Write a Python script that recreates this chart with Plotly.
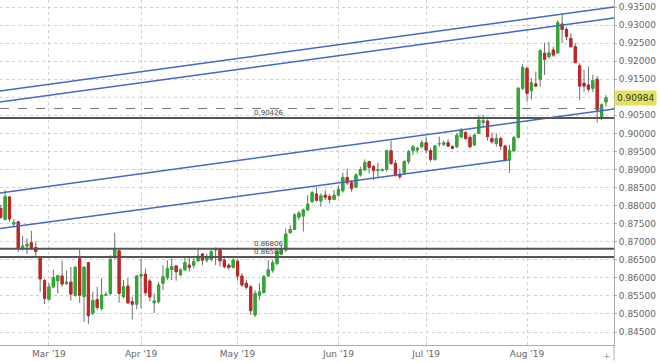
import plotly.graph_objects as go
import pandas as pd

# ---------------- data ----------------
dates = pd.bdate_range("2019-02-14", periods=139).strftime("%Y-%m-%d").tolist()

opens = [0.8792, 0.8762, 0.8824, 0.8749, 0.8755, 0.8681, 0.8688, 0.8697, 0.8684, 0.8657,
         0.8592, 0.8540, 0.8575, 0.8592, 0.8605, 0.8584, 0.8588, 0.8552, 0.8653, 0.8548,
         0.8642, 0.8502, 0.8540, 0.8515, 0.8552, 0.8557, 0.8657, 0.8675, 0.8548, 0.8577,
         0.8534, 0.8527, 0.8605, 0.8610, 0.8591, 0.8531, 0.8534, 0.8585, 0.8601, 0.8623,
         0.8633, 0.8608, 0.8622, 0.8635, 0.8635, 0.8647, 0.8666, 0.8649, 0.8651, 0.8677,
         0.8679, 0.8649, 0.8635, 0.8629, 0.8646, 0.8605, 0.8585, 0.8575, 0.8497, 0.8552,
         0.8559, 0.8605, 0.8620, 0.8640, 0.8666, 0.8677, 0.8725, 0.8734, 0.8768, 0.8771,
         0.8788, 0.8811, 0.8832, 0.8813, 0.8829, 0.8825, 0.8817, 0.8829, 0.8841, 0.8878,
         0.8863, 0.8851, 0.8885, 0.8899, 0.8922, 0.8908, 0.8897, 0.8898, 0.8900, 0.8952,
         0.8917, 0.8887, 0.8891, 0.8922, 0.8952, 0.8954, 0.8963, 0.8974, 0.8952, 0.8928,
         0.8971, 0.8970, 0.8974, 0.8963, 0.8963, 0.8990, 0.9002, 0.8989, 0.8968, 0.9000,
         0.9030, 0.9034, 0.8986, 0.8972, 0.8986, 0.8965, 0.8926, 0.8952, 0.8989, 0.9125,
         0.9180, 0.9118, 0.9137, 0.9150, 0.9222, 0.9212, 0.9231, 0.9223, 0.9303, 0.9288,
         0.9263, 0.9240, 0.9187, 0.9139, 0.9134, 0.9125, 0.9150, 0.9045, 0.9087]
highs = [0.8802, 0.8843, 0.8826, 0.8763, 0.8758, 0.8716, 0.8709, 0.8730, 0.8700, 0.8660,
         0.8597, 0.8585, 0.8623, 0.8608, 0.8647, 0.8620, 0.8630, 0.8633, 0.8677, 0.8633,
         0.8644, 0.8561, 0.8575, 0.8599, 0.8561, 0.8663, 0.8725, 0.8677, 0.8594, 0.8599,
         0.8548, 0.8608, 0.8652, 0.8626, 0.8597, 0.8557, 0.8589, 0.8635, 0.8649, 0.8654,
         0.8635, 0.8626, 0.8658, 0.8658, 0.8654, 0.8682, 0.8669, 0.8666, 0.8679, 0.8684,
         0.8682, 0.8654, 0.8640, 0.8654, 0.8651, 0.8612, 0.8594, 0.8580, 0.8566, 0.8585,
         0.8608, 0.8649, 0.8649, 0.8677, 0.8691, 0.8737, 0.8746, 0.8779, 0.8786, 0.8792,
         0.8829, 0.8841, 0.8851, 0.8834, 0.8843, 0.8832, 0.8843, 0.8857, 0.8891, 0.8903,
         0.8871, 0.8889, 0.8908, 0.8928, 0.8924, 0.8912, 0.8919, 0.8903, 0.8954, 0.8980,
         0.8926, 0.8903, 0.8926, 0.8954, 0.8968, 0.8963, 0.8982, 0.8991, 0.8959, 0.8968,
         0.8991, 0.8980, 0.8984, 0.8968, 0.9000, 0.9015, 0.9007, 0.8995, 0.9000, 0.9051,
         0.9051, 0.9039, 0.9002, 0.9000, 0.8991, 0.8968, 0.8968, 0.8993, 0.9128, 0.9192,
         0.9183, 0.9153, 0.9171, 0.9233, 0.9251, 0.9254, 0.9240, 0.9314, 0.9331, 0.9295,
         0.9277, 0.9250, 0.9194, 0.9176, 0.9185, 0.9162, 0.9159, 0.9083, 0.9106]
lows = [0.8763, 0.8758, 0.8755, 0.8743, 0.8672, 0.8675, 0.8666, 0.8677, 0.8660, 0.8561,
        0.8527, 0.8538, 0.8571, 0.8557, 0.8575, 0.8580, 0.8537, 0.8548, 0.8531, 0.8478,
        0.8472, 0.8497, 0.8511, 0.8509, 0.8550, 0.8552, 0.8651, 0.8531, 0.8543, 0.8527,
        0.8485, 0.8513, 0.8516, 0.8552, 0.8534, 0.8502, 0.8529, 0.8566, 0.8594, 0.8594,
        0.8592, 0.8605, 0.8620, 0.8617, 0.8626, 0.8645, 0.8635, 0.8642, 0.8645, 0.8635,
        0.8631, 0.8626, 0.8622, 0.8626, 0.8592, 0.8575, 0.8568, 0.8497, 0.8492, 0.8538,
        0.8557, 0.8603, 0.8614, 0.8635, 0.8663, 0.8672, 0.8723, 0.8732, 0.8760, 0.8728,
        0.8786, 0.8808, 0.8811, 0.8797, 0.8815, 0.8806, 0.8815, 0.8825, 0.8836, 0.8857,
        0.8838, 0.8848, 0.8880, 0.8896, 0.8889, 0.8871, 0.8878, 0.8894, 0.8894, 0.8912,
        0.8880, 0.8873, 0.8885, 0.8915, 0.8940, 0.8945, 0.8959, 0.8945, 0.8922, 0.8924,
        0.8963, 0.8965, 0.8963, 0.8956, 0.8959, 0.8987, 0.8982, 0.8959, 0.8965, 0.8998,
        0.9017, 0.8980, 0.8971, 0.8963, 0.8954, 0.8922, 0.8891, 0.8949, 0.8986, 0.9120,
        0.9088, 0.9094, 0.9128, 0.9129, 0.9162, 0.9208, 0.9212, 0.9221, 0.9250, 0.9259,
        0.9238, 0.9194, 0.9092, 0.9115, 0.9115, 0.9115, 0.9030, 0.9037, 0.9074]
closes = [0.8768, 0.8825, 0.8763, 0.8753, 0.8682, 0.8688, 0.8693, 0.8682, 0.8673, 0.8597,
          0.8543, 0.8575, 0.8601, 0.8606, 0.8583, 0.8588, 0.8555, 0.8629, 0.8552, 0.8629,
          0.8495, 0.8537, 0.8518, 0.8552, 0.8554, 0.8651, 0.8679, 0.8557, 0.8575, 0.8531,
          0.8527, 0.8605, 0.8609, 0.8559, 0.8547, 0.8536, 0.8580, 0.8603, 0.8626, 0.8631,
          0.8617, 0.8622, 0.8642, 0.8629, 0.8645, 0.8660, 0.8649, 0.8657, 0.8672, 0.8679,
          0.8647, 0.8631, 0.8629, 0.8649, 0.8605, 0.8580, 0.8574, 0.8509, 0.8557, 0.8561,
          0.8603, 0.8622, 0.8642, 0.8672, 0.8677, 0.8721, 0.8734, 0.8774, 0.8779, 0.8788,
          0.8804, 0.8836, 0.8815, 0.8827, 0.8823, 0.8817, 0.8829, 0.8845, 0.8878, 0.8863,
          0.8848, 0.8885, 0.8900, 0.8919, 0.8906, 0.8897, 0.8900, 0.8899, 0.8952, 0.8917,
          0.8885, 0.8880, 0.8922, 0.8949, 0.8963, 0.8959, 0.8974, 0.8954, 0.8928, 0.8965,
          0.8972, 0.8974, 0.8965, 0.8959, 0.8995, 0.9008, 0.8986, 0.8963, 0.8995, 0.9037,
          0.9035, 0.8991, 0.8977, 0.8986, 0.8965, 0.8926, 0.8952, 0.8988, 0.9125, 0.9183,
          0.9111, 0.9140, 0.9131, 0.9229, 0.9205, 0.9223, 0.9217, 0.9307, 0.9288, 0.9268,
          0.9240, 0.9196, 0.9131, 0.9131, 0.9122, 0.9146, 0.9065, 0.9079, 0.90984]

month_ticks = ["2019-03-01", "2019-04-01", "2019-05-01", "2019-06-03", "2019-07-01", "2019-08-01"]
month_labels = ["Mar '19", "Apr '19", "May '19", "Jun '19", "Jul '19", "Aug '19"]

# price axis ticks (0.91000 is covered by the last-price marker)
price_ticks = [0.845, 0.850, 0.855, 0.860, 0.865, 0.870, 0.875, 0.880, 0.885, 0.890,
               0.895, 0.900, 0.905, 0.915, 0.920, 0.925, 0.930, 0.935]
grid_prices = [0.910]

# horizontal levels (price, label)
levels = [0.90426, 0.86806, 0.86580]
level_labels = ["0.90426", "0.86806", "0.86580"]
dashed_level = 0.9069
last_price = 0.90984

# trend lines: (start bar index, start price, end bar index, end price)
trend_starts_x = [-0.16, -0.16, -0.16, -0.16]
trend_starts_y = [0.91173, 0.90869, 0.88348, 0.87365]
trend_ends_x = [139.83, 139.83, 139.83, 115.7]
trend_ends_y = [0.93500, 0.93195, 0.90677, 0.89262]

# ---------------- figure ----------------
GREEN = "#2eac2e"
RED = "#c62424"
WICK = "#6e6e6e"

n = len(dates)
x_idx = list(range(n))
body_hi = [max(o, c) for o, c in zip(opens, closes)]
body_lo = [min(o, c) for o, c in zip(opens, closes)]

fig = go.Figure()
# wicks
fig.add_trace(go.Candlestick(
    x=x_idx, open=opens, high=highs, low=lows, close=closes,
    increasing=dict(line=dict(color=WICK, width=1), fillcolor=WICK),
    decreasing=dict(line=dict(color=WICK, width=1), fillcolor=WICK),
    whiskerwidth=0, showlegend=False, hoverinfo="skip"))
# bodies
fig.add_trace(go.Candlestick(
    x=x_idx, open=opens, high=body_hi, low=body_lo, close=closes,
    increasing=dict(line=dict(color=GREEN, width=1), fillcolor=GREEN),
    decreasing=dict(line=dict(color=RED, width=1), fillcolor=RED),
    whiskerwidth=0, showlegend=False, text=dates))

shapes = []
# extra dotted grid line where the tick label is hidden
for gp in grid_prices:
    shapes.append(dict(type="line", xref="paper", yref="y", x0=0, x1=1, y0=gp, y1=gp,
                       line=dict(color="#d0d0d0", width=1, dash="dot"), layer="below"))
for x0, y0, x1, y1 in zip(trend_starts_x, trend_starts_y, trend_ends_x, trend_ends_y):
    shapes.append(dict(type="line", xref="x", yref="y", x0=x0, y0=y0, x1=x1, y1=y1,
                       line=dict(color="#4169c8", width=1.6), layer="above"))
for lv in levels:
    shapes.append(dict(type="line", xref="paper", yref="y", x0=0, x1=1, y0=lv, y1=lv,
                       line=dict(color="#555555", width=2), layer="above"))
shapes.append(dict(type="line", xref="paper", yref="y", x0=0, x1=1, y0=dashed_level, y1=dashed_level,
                   line=dict(color="#777777", width=1, dash="dash"), layer="above"))
# short extension of the price axis below the plot
shapes.append(dict(type="line", xref="paper", yref="paper", x0=1, x1=1, y0=0, y1=-0.045,
                   line=dict(color="#aaaaaa", width=1)))

annotations = []
for lv, lab in zip(levels, level_labels):
    annotations.append(dict(x=57.3, y=lv, xref="x", yref="y", text=lab, showarrow=False,
                            xanchor="left", yanchor="bottom", yshift=-1,
                            font=dict(family="DejaVu Sans", size=7, color="#444444")))
annotations.append(dict(x=1, y=last_price, xref="paper", yref="y", text="%.5f" % last_price,
                        showarrow=False, xanchor="left", yanchor="middle", xshift=0,
                        bgcolor="#e2e25e", borderpad=2,
                        font=dict(family="DejaVu Sans", size=9, color="#333333")))
annotations.append(dict(x=1, y=0, xref="paper", yref="paper", text="+", showarrow=False,
                        xanchor="right", yanchor="top", yshift=-4, xshift=-1,
                        font=dict(family="DejaVu Sans", size=9, color="#999999")))

fig.update_layout(
    width=660, height=363,
    margin=dict(l=0, r=46, t=0, b=18),
    paper_bgcolor="white", plot_bgcolor="white",
    shapes=shapes, annotations=annotations,
    font=dict(family="DejaVu Sans", size=9, color="#666666"),
    xaxis=dict(
        range=[-0.16, 139.83], rangeslider=dict(visible=False),
        tickvals=[dates.index(d) for d in month_ticks], ticktext=month_labels,
        showgrid=True, gridcolor="#d0d0d0", griddash="dot", gridwidth=1,
        showline=True, linecolor="#aaaaaa", linewidth=1,
        ticks="", tickfont=dict(family="DejaVu Sans", size=9, color="#666666"),
        zeroline=False, fixedrange=True),
    yaxis=dict(
        side="right", range=[0.84140, 0.93694],
        tickvals=price_ticks, tickformat=".5f",
        showgrid=True, gridcolor="#d0d0d0", griddash="dot", gridwidth=1,
        showline=True, linecolor="#aaaaaa", linewidth=1,
        ticks="outside", ticklen=2, tickcolor="#aaaaaa",
        tickfont=dict(family="DejaVu Sans", size=9, color="#666666"),
        zeroline=False, fixedrange=True),
)

fig.write_html("out.html", config={"displayModeBar": False},
               post_script="document.body.style.margin='0';document.body.style.overflow='hidden';")
